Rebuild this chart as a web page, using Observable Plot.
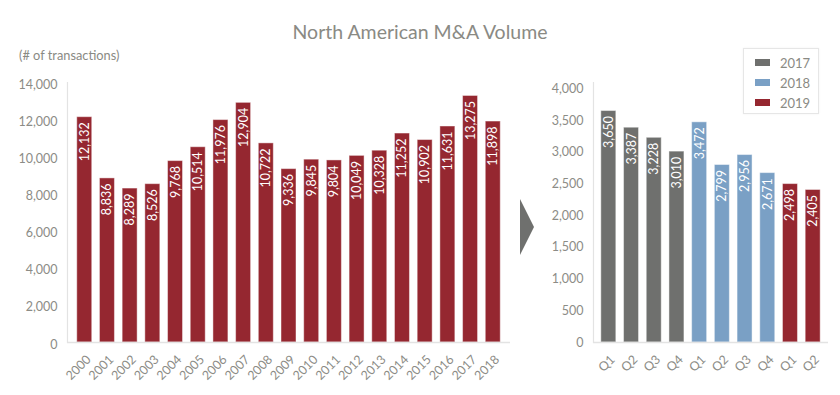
<!DOCTYPE html>
<html>
<head>
<meta charset="utf-8">
<script src="https://cdn.jsdelivr.net/npm/d3@7"></script>
<script src="https://cdn.jsdelivr.net/npm/@observablehq/plot@0.6"></script>
<style>
  body { margin: 0; background: #fff; font-family: Lato, "Open Sans", sans-serif; }
  #root { position: relative; width: 840px; height: 395px; overflow: hidden; }
  #title { position: absolute; top: 21px; left: 0; width: 840px; text-align: center; font-size: 19.5px; line-height: 22px; color: #8a8a84; }
  #sub { position: absolute; left: 19px; top: 48px; font-size: 12.8px; line-height: 14px; color: #8a8a84; }
  #left { position: absolute; left: 0; top: 60px; }
  #right { position: absolute; left: 520px; top: 60px; }
  #arrow { position: absolute; left: 520px; top: 199px; width: 0; height: 0;
           border-top: 28px solid transparent;
           border-bottom: 28px solid transparent; border-left: 14px solid #6f706e; }
  #legend { position: absolute; left: 743px; top: 48px; width: 76px; height: 66px; box-sizing: border-box;
            border: 1px solid #e6e6e6; box-shadow: 0 0 2px rgba(0,0,0,0.06); padding-top: 4px; }
  .item { height: 20px; line-height: 20px; font-size: 13px; color: #8a8a84; position: relative; }
  .sw { position: absolute; left: 11px; top: 6px; width: 15px; height: 7px; }
  .lab { position: absolute; left: 36px; top: 0; }
  svg { overflow: visible; }
</style>
</head>
<body>
<div id="root">
  <div id="title">North American M&amp;A Volume</div>
  <div id="sub">(# of transactions)</div>
  <div id="left"></div>
  <div id="arrow"></div>
  <div id="right"></div>
  <div id="legend"></div>
</div>
<script>
// ---- Data ----
const years = ["2000","2001","2002","2003","2004","2005","2006","2007","2008","2009",
               "2010","2011","2012","2013","2014","2015","2016","2017","2018"];
const annualValues = [12132, 8836, 8289, 8526, 9768, 10514, 11976, 12904, 10722, 9336,
                      9845, 9804, 10049, 10328, 11252, 10902, 11631, 13275, 11898];
const leftTicks = [0, 2000, 4000, 6000, 8000, 10000, 12000, 14000];

const quarterLabels = ["Q1","Q2","Q3","Q4","Q1","Q2","Q3","Q4","Q1","Q2"];
const quarterYears  = ["2017","2017","2017","2017","2018","2018","2018","2018","2019","2019"];
const quarterValues = [3650, 3387, 3228, 3010, 3472, 2799, 2956, 2671, 2498, 2405];
const rightTicks = [0, 500, 1000, 1500, 2000, 2500, 3000, 3500, 4000];

const seriesYears  = ["2017","2018","2019"];
const seriesColors = ["#6f706e","#7aa0c5","#952730"];

// ---- Build tables ----
const annual = years.map((y, i) => ({year: y, value: annualValues[i]}));
const quarters = quarterLabels.map((q, i) => ({key: i, q, year: quarterYears[i], value: quarterValues[i]}));
const fmt = d3.format(",");
const red = seriesColors[2];
const axisGray = "#e3e3e3";
const textGray = "#8c8c86";

const common = {
  height: 335,
  marginTop: 22,
  marginBottom: 53,
  style: {fontFamily: "Lato, 'Open Sans', sans-serif", fontSize: "12px", color: textGray, background: "transparent"}
};

function xAxis(fmtFn) {
  return Plot.axisX({tickSize: 0, tickRotate: -45, tickPadding: 15, dx: 4, label: null, fontSize: 12.5,
                     ...(fmtFn ? {tickFormat: fmtFn} : {})});
}
function yAxis(ticks, dy) {
  return Plot.axisY({ticks, tickFormat: fmt, tickSize: 0, tickPadding: 10, label: null, fontSize: 12.5, dy});
}

const left = Plot.plot({
  ...common,
  width: 515,
  marginLeft: 67,
  marginRight: 5,
  x: {domain: years, paddingInner: 0.34, paddingOuter: 0.43, round: false, label: null},
  y: {domain: [0, 14000], label: null},
  marks: [
    Plot.frame({anchor: "left", stroke: axisGray, strokeWidth: 1.2}),
    xAxis(null),
    yAxis(leftTicks, 2),
    Plot.barY(annual, {x: "year", y: "value", fill: red, stroke: "#fff", strokeOpacity: 0.45, strokeWidth: 1}),
    Plot.ruleY([0], {stroke: axisGray, strokeWidth: 1.5}),
    Plot.text(annual, {x: "year", y: "value", text: d => fmt(d.value), rotate: -90, textAnchor: "end",
                       lineAnchor: "middle", dy: 5, fill: "white", fontSize: 12.5})
  ]
});
document.getElementById("left").appendChild(left);

const right = Plot.plot({
  ...common,
  width: 320,
  marginLeft: 73,
  marginRight: 12,
  x: {domain: quarters.map(d => d.key), paddingInner: 0.34, paddingOuter: 0.345, round: false, label: null},
  y: {domain: [0, 4100], label: null},
  color: {domain: seriesYears, range: seriesColors},
  marks: [
    Plot.frame({anchor: "left", stroke: axisGray, strokeWidth: 1.2}),
    xAxis(i => quarterLabels[i]),
    yAxis(rightTicks, 0),
    Plot.barY(quarters, {x: "key", y: "value", fill: "year", stroke: "#fff", strokeOpacity: 0.45, strokeWidth: 1}),
    Plot.ruleY([0], {stroke: axisGray, strokeWidth: 1.5}),
    Plot.text(quarters, {x: "key", y: "value", text: d => fmt(d.value), rotate: -90, textAnchor: "end",
                         lineAnchor: "middle", dy: 5, fill: "white", fontSize: 12.5})
  ]
});
document.getElementById("right").appendChild(right);

// ---- Legend ----
const lg = document.getElementById("legend");
seriesYears.forEach((y, i) => {
  const it = document.createElement("div");
  it.className = "item";
  const sw = document.createElement("div");
  sw.className = "sw";
  sw.style.background = seriesColors[i];
  const lab = document.createElement("div");
  lab.className = "lab";
  lab.textContent = y;
  it.appendChild(sw); it.appendChild(lab);
  lg.appendChild(it);
});
</script>
</body>
</html>
